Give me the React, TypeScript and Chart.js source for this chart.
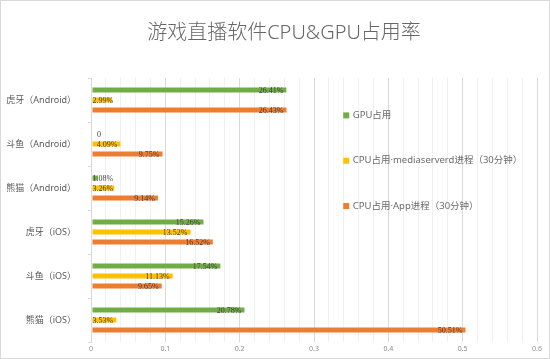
import React, { useEffect, useRef } from "react";
import { Chart, registerables } from "chart.js";

Chart.register(...registerables);

const categories = ["虎牙（Android）", "斗鱼（Android）", "熊猫（Android）", "虎牙（iOS）", "斗鱼（iOS）", "熊猫（iOS）"];
const gpuValues = [0.2641, 0, 0.0108, 0.1526, 0.1754, 0.2078];
const mediaserverdValues = [0.0299, 0.0409, 0.0326, 0.1352, 0.1113, 0.0353];
const appValues = [0.2643, 0.0975, 0.0914, 0.1652, 0.0965, 0.5051];
const seriesNames = ["GPU占用", "CPU占用·mediaserverd进程（30分钟）", "CPU占用·App进程（30分钟）"];
const seriesColors = ["#70AD47", "#FFC000", "#ED7D31"];
const titleText = "游戏直播软件CPU&GPU占用率";

const fmt = (v: number) => (v === 0 ? "0" : (v * 100).toFixed(2) + "%");

const labelPlugin = {
  id: "barLabels",
  afterDatasetsDraw(chart: any) {
    const ctx = chart.ctx;
    ctx.save();
    ctx.font = "8px 'Liberation Serif', serif";
    ctx.fillStyle = "#404040";
    ctx.textBaseline = "middle";
    chart.data.datasets.forEach((ds: any, di: number) => {
      const meta = chart.getDatasetMeta(di);
      meta.data.forEach((bar: any, i: number) => {
        const v = ds.data[i];
        const t = fmt(v);
        const w = ctx.measureText(t).width;
        const left = Math.min(bar.base, bar.x);
        const right = Math.max(bar.base, bar.x);
        if (right - left >= w + 6) {
          ctx.textAlign = "right";
          ctx.fillText(t, right - 4, bar.y + 0.5);
        } else {
          ctx.textAlign = "left";
          ctx.fillText(t, left + (v === 0 ? 6 : 1), bar.y + 0.5);
        }
      });
    });
    ctx.restore();
  },
};

const legendTitlePlugin = {
  id: "innerLegendTitle",
  afterDraw(chart: any) {
    const ctx = chart.ctx;
    const xs = chart.scales.x;
    const ys = chart.scales.y;
    ctx.save();
    // title
    ctx.font = "300 20px 'Noto Sans', 'Noto Sans CJK SC', sans-serif";
    ctx.fillStyle = "#666666";
    ctx.textAlign = "center";
    ctx.textBaseline = "middle";
    ctx.fillText(titleText, (chart.chartArea.left + chart.chartArea.right) / 2 - 30, 33);
    // legend
    const x0 = xs.getPixelForValue(0.34);
    ctx.font = "9.5px 'Noto Sans', 'Noto Sans CJK SC', sans-serif";
    ctx.textAlign = "left";
    chart.data.datasets.forEach((ds: any, di: number) => {
      const y = ys.getPixelForValue(0.35 + di * 1.03);
      ctx.fillStyle = ds.backgroundColor;
      ctx.fillRect(x0 - 0.5, y - 3, 6, 6);
      ctx.fillStyle = "#6b6b6b";
      ctx.fillText(ds.label, x0 + 9, y);
    });
    ctx.restore();
  },
};

export default function App() {
  const ref = useRef<HTMLCanvasElement>(null);
  useEffect(() => {
    document.body.style.margin = "0";
    const chart = new Chart(ref.current!, {
      type: "bar",
      data: {
        labels: categories,
        datasets: [gpuValues, mediaserverdValues, appValues].map((d, i) => ({
          label: seriesNames[i],
          data: d,
          backgroundColor: seriesColors[i],
          borderColor: "rgba(255,255,255,0.35)",
          borderWidth: 1,
          borderSkipped: false,
          categoryPercentage: 0.68,
          barPercentage: 0.72,
        })),
      },
      options: {
        indexAxis: "y",
        animation: false,
        responsive: false,
        maintainAspectRatio: false,
        layout: { padding: { left: 0, right: 13, top: 78, bottom: 2 } },
        plugins: {
          legend: { display: false },
          tooltip: { enabled: false },
          title: { display: false },
        },
        scales: {
          x: {
            min: 0,
            max: 0.6,
            ticks: {
              stepSize: 0.02,
              autoSkip: false,
              maxRotation: 0,
              color: "#8c8c8c",
              font: { size: 7, family: "'Noto Sans', sans-serif" },
              padding: 3,
              callback: (v: any) => {
                const n = Math.round(Number(v) * 100);
                return n % 10 === 0 ? String(n / 100) : "";
              },
            },
            grid: {
              color: (c: any) => {
                const n = Math.round(Number(c.tick?.value) * 100);
                return n % 10 === 0 ? "#d9d9d9" : "#f0f0f0";
              },
              drawTicks: false,
            },
            border: { display: false },
            afterFit: (s: any) => {
              s.height = 15;
              s.paddingLeft = 0;
              s.paddingRight = 0;
            },
          },
          y: {
            ticks: {
              color: "#595959",
              font: { size: 9, family: "'Noto Sans', 'Noto Sans CJK SC', sans-serif" },
              padding: 12,
            },
            grid: {
              offset: true,
              drawOnChartArea: false,
              tickLength: 3,
              color: "#d9d9d9",
            },
            border: { display: true, color: "#d9d9d9" },
            afterFit: (s: any) => {
              s.width = 91;
              s.paddingTop = 0;
              s.paddingBottom = 0;
            },
          },
        },
      },
      plugins: [labelPlugin, legendTitlePlugin],
    });
    return () => chart.destroy();
  }, []);
  return (
    <div style={{ position: "relative", width: 550, height: 359, background: "#fff" }}>
      <canvas ref={ref} width={550} height={359} style={{ position: "absolute", left: 0, top: 0 }} />
      <div
        style={{
          position: "absolute",
          left: 0,
          top: 0,
          width: 548,
          height: 357,
          border: "1px solid #d9d9d9",
          pointerEvents: "none",
        }}
      />
    </div>
  );
}
